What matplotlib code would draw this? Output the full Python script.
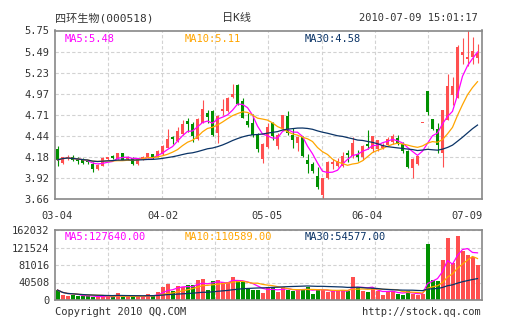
import numpy as np
import pandas as pd
import matplotlib
matplotlib.use('Agg')
import matplotlib.pyplot as plt

# daily bars, oldest first
opens = [4.29, 4.11, 4.17, 4.19, 4.17, 4.15, 4.14, 4.10, 4.04, 4.08,
         4.16, 4.20, 4.16, 4.23, 4.16, 4.17, 4.10, 4.16, 4.18, 4.22,
         4.19, 4.22, 4.30, 4.43, 4.38, 4.47, 4.63, 4.59, 4.41, 4.61,
         4.73, 4.76, 4.48, 4.76, 4.75, 4.93, 5.07, 4.88, 4.63, 4.61,
         4.46, 4.16, 4.31, 4.60, 4.32, 4.53, 4.69, 4.46, 4.36, 4.43,
         4.15, 4.10, 3.95, 3.71, 3.92, 4.10, 4.07, 4.08, 4.23, 4.20,
         4.22, 4.19, 4.35, 4.28, 4.29, 4.30, 4.34, 4.37, 4.42, 4.35,
         4.26, 4.05, 4.10, 4.61, 5.00, 4.66, 4.53, 4.24, 4.64, 4.95,
         4.92, 5.45, 5.40, 5.42, 5.41]
highs = [4.32, 4.19, 4.21, 4.21, 4.19, 4.17, 4.15, 4.12, 4.10, 4.18,
         4.19, 4.21, 4.23, 4.23, 4.20, 4.18, 4.17, 4.20, 4.24, 4.22,
         4.27, 4.33, 4.53, 4.44, 4.56, 4.64, 4.67, 4.62, 4.67, 4.89,
         4.77, 4.77, 4.70, 4.90, 4.93, 5.09, 5.09, 4.92, 4.73, 4.72,
         4.48, 4.36, 4.60, 4.62, 4.48, 4.71, 4.75, 4.54, 4.44, 4.45,
         4.22, 4.12, 4.06, 3.93, 4.13, 4.16, 4.17, 4.25, 4.27, 4.43,
         4.27, 4.33, 4.52, 4.45, 4.40, 4.36, 4.43, 4.47, 4.46, 4.37,
         4.27, 4.17, 4.20, 4.61, 5.00, 4.66, 4.60, 4.77, 5.21, 5.18,
         5.57, 5.66, 5.75, 5.67, 5.58]
lows = [4.08, 4.10, 4.15, 4.14, 4.10, 4.10, 4.10, 4.00, 4.02, 4.07,
        4.15, 4.16, 4.16, 4.15, 4.15, 4.09, 4.09, 4.15, 4.17, 4.16,
        4.18, 4.21, 4.30, 4.35, 4.37, 4.46, 4.50, 4.37, 4.40, 4.60,
        4.60, 4.45, 4.36, 4.70, 4.74, 4.92, 4.83, 4.67, 4.56, 4.43,
        4.25, 4.11, 4.30, 4.39, 4.29, 4.52, 4.46, 4.30, 4.26, 4.19,
        3.99, 3.99, 3.79, 3.66, 3.91, 4.04, 4.06, 4.06, 4.12, 4.17,
        4.14, 4.15, 4.29, 4.25, 4.26, 4.28, 4.33, 4.35, 4.33, 4.23,
        4.05, 3.92, 4.09, 4.61, 4.70, 4.52, 4.24, 4.06, 4.64, 4.83,
        4.92, 5.33, 5.31, 5.34, 5.35]
closes = [4.15, 4.18, 4.19, 4.15, 4.14, 4.11, 4.12, 4.04, 4.09, 4.17,
          4.18, 4.17, 4.23, 4.15, 4.19, 4.10, 4.17, 4.19, 4.23, 4.17,
          4.26, 4.32, 4.41, 4.41, 4.51, 4.59, 4.59, 4.44, 4.66, 4.78,
          4.68, 4.46, 4.69, 4.78, 4.92, 4.97, 4.84, 4.67, 4.58, 4.46,
          4.29, 4.35, 4.56, 4.44, 4.46, 4.70, 4.48, 4.39, 4.43, 4.20,
          4.10, 4.01, 3.82, 3.92, 4.12, 4.12, 4.13, 4.20, 4.21, 4.36,
          4.19, 4.32, 4.32, 4.44, 4.39, 4.34, 4.41, 4.44, 4.35, 4.26,
          4.06, 4.16, 4.20, 4.61, 4.74, 4.53, 4.33, 4.77, 5.06, 5.06,
          5.54, 5.49, 5.42, 5.50, 5.47]
volumes = [23000, 12400, 10000, 12400, 9300, 8500, 8500, 7700, 7000, 8500,
           7700, 7000, 16200, 7700, 7700, 7700, 7700, 7700, 13900, 10800,
           18500, 30000, 37000, 21600, 32400, 30500, 34000, 35000, 46500, 49000,
           23000, 44500, 46500, 41500, 41500, 53000, 43500, 43500, 27500, 24300,
           24300, 16200, 29500, 29300, 18500, 29300, 24000, 20000, 24000, 24000,
           30900, 14700, 25500, 24000, 17800, 20000, 21600, 24000, 20000, 53300,
           29300, 20000, 18500, 27800, 20000, 12400, 20000, 21600, 13900, 12400,
           20000, 14700, 12400, 13900, 129700, 47000, 44800, 92600, 143600, 86500,
           149000, 112700, 103400, 98800, 81800]

date_labels = ['03-04', '04-02', '05-05', '06-04', '07-09']
date_index = [0, 21, 42, 62, 84]
price_ticks = [3.66, 3.92, 4.18, 4.44, 4.71, 4.97, 5.23, 5.49, 5.75]
vol_ticks = [0, 40508, 81016, 121524, 162032]

RED = '#ff4f4f'
GREEN = '#009000'
C_MA5 = '#ff00ff'
C_MA10 = '#ffa500'
C_MA30 = '#0a3366'
GRID = '#d2d2d2'
FRAME = '#888888'
TXT = '#333333'
MONO = ['DejaVu Sans Mono', 'Noto Sans CJK SC']

W, H = 505, 330
def fx(x):
    return x / W
def fy(y):
    return 1 - y / H

df = pd.DataFrame({'o': opens, 'h': highs, 'l': lows, 'c': closes, 'v': volumes})
n = len(df)
xs = np.arange(n)
up = df['c'] >= df['o']
cols = [RED if u else GREEN for u in up]

fig = plt.figure(figsize=(W / 100, H / 100), dpi=100)
fig.patch.set_facecolor('white')

left, right = 55, 481.5
ax = fig.add_axes([fx(left), fy(199.5), fx(right - left), (199.5 - 30.5) / H])
axv = fig.add_axes([fx(left), fy(300), fx(right - left), 70 / H])

xgrid = [-0.5 + 53.33 * k / 5 for k in range(1, 8)]
for a in (ax, axv):
    a.set_xlim(-0.5, -0.5 + (right - left) / 5)
    a.set_xticks(xgrid)
    a.tick_params(axis='x', length=0, labelbottom=False)
    a.tick_params(axis='y', length=0, pad=4, labelsize=7.5, labelcolor=TXT)
    a.grid(True, color=GRID, linestyle=(0, (3, 2)), linewidth=0.8)
    a.set_axisbelow(True)
    for s in a.spines.values():
        s.set_color(FRAME)
        s.set_linewidth(1.2)
    for lab in a.get_yticklabels():
        lab.set_family(MONO)

# candles
ax.vlines(xs, df['l'], df['h'], colors=cols, linewidth=0.8, zorder=2)
body = np.maximum((df['c'] - df['o']).abs(), 0.008)
ax.bar(xs, body, bottom=np.minimum(df['o'], df['c']), width=0.72, color=cols,
       linewidth=0, zorder=3)

for w, c in ((5, C_MA5), (10, C_MA10), (30, C_MA30)):
    ax.plot(xs, df['c'].rolling(w, min_periods=1).mean(), color=c, linewidth=0.9, zorder=4)

ax.set_ylim(price_ticks[0], price_ticks[-1])
ax.set_yticks(price_ticks)
ax.set_yticklabels(['%.2f' % t for t in price_ticks], family=MONO)

# volume
axv.bar(xs, df['v'], width=0.8, color=cols, linewidth=0, zorder=2)
for w, c in ((5, C_MA5), (10, C_MA10), (30, C_MA30)):
    axv.plot(xs, df['v'].rolling(w, min_periods=1).mean(), color=c, linewidth=0.9, zorder=3)
axv.set_ylim(0, vol_ticks[-1])
axv.set_yticks(vol_ticks)
axv.set_yticklabels([str(t) for t in vol_ticks], family=MONO)

# date labels between the panels
for i, lab in zip(date_index, date_labels):
    xp = left + 5 * i + 2.5
    ha = 'center'
    if i == date_index[-1]:
        xp, ha = right + 1, 'right'
    fig.text(fx(xp), fy(216), lab, ha=ha, va='center', fontsize=7.5, color=TXT, family=MONO)

# MA readouts
fs = 7.5
fig.text(fx(65), fy(39), 'MA5:5.48', color=C_MA5, fontsize=fs, va='center', family=MONO)
fig.text(fx(185), fy(39), 'MA10:5.11', color=C_MA10, fontsize=fs, va='center', family=MONO)
fig.text(fx(305), fy(39), 'MA30:4.58', color=C_MA30, fontsize=fs, va='center', family=MONO)
fig.text(fx(65), fy(237), 'MA5:127640.00', color=C_MA5, fontsize=fs, va='center', family=MONO)
fig.text(fx(185), fy(237), 'MA10:110589.00', color=C_MA10, fontsize=fs, va='center', family=MONO)
fig.text(fx(305), fy(237), 'MA30:54577.00', color=C_MA30, fontsize=fs, va='center', family=MONO)

# header and footer
fig.text(fx(55), fy(18), '四环生物(000518)', color=TXT, fontsize=8, va='center', family=MONO)
fig.text(fx(236), fy(18), '日K线', color=TXT, fontsize=8, va='center', ha='center', family=MONO)
fig.text(fx(478), fy(18), '2010-07-09 15:01:17', color=TXT, fontsize=7.5, va='center', ha='right', family=MONO)
fig.text(fx(55), fy(312), 'Copyright 2010 QQ.COM', color=TXT, fontsize=7.5, va='center', family=MONO)
fig.text(fx(481), fy(312), 'http://stock.qq.com', color=TXT, fontsize=7.5, va='center', ha='right', family=MONO)

fig.savefig('out.png', dpi=100)
